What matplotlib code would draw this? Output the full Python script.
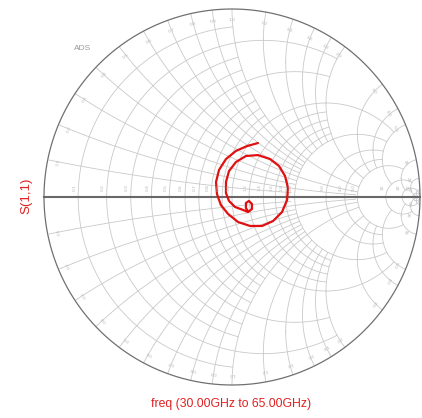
import numpy as np
import matplotlib
matplotlib.use("Agg")
import matplotlib.pyplot as plt

s11_re = [0.138, 0.080, 0.021, -0.032, -0.069, -0.085, -0.080, -0.059, -0.021, 0.032,
          0.096, 0.160, 0.218, 0.266, 0.293, 0.298, 0.282, 0.250, 0.202, 0.138,
          0.074, 0.021, -0.016, -0.032, -0.032, -0.016, 0.016, 0.059, 0.085, 0.106,
          0.106, 0.090, 0.074, 0.074, 0.085]
s11_im = [0.287, 0.271, 0.245, 0.202, 0.144, 0.080, 0.016, -0.043, -0.090, -0.133,
          -0.154, -0.154, -0.128, -0.080, -0.016, 0.048, 0.112, 0.165, 0.202, 0.223,
          0.218, 0.186, 0.138, 0.080, 0.021, -0.021, -0.053, -0.069, -0.080, -0.064,
          -0.037, -0.021, -0.032, -0.059, -0.075]

# Smith chart grid values
r_grid = [0.1, 0.2, 0.3, 0.4, 0.5, 0.6, 0.7, 0.8, 0.9, 1.0, 1.2, 1.4, 1.6, 1.8, 2.0,
          3.0, 4.0, 5.0, 10.0, 20.0, 50.0]
x_grid = r_grid
r_labels = ["0.1", "0.2", "0.3", "0.4", "0.5", "0.6", "0.7", "0.8", "0.9", "1.0",
            "1.2", "1.4", "1.6", "1.8", "2.0", "3.0", "4.0", "5.0", "10", "20", "50"]

title_text = "freq (30.00GHz to 65.00GHz)"
ylabel_text = "S(1,1)"


def r_limit(v):
    # reactance extent drawn for a resistance circle
    if v in (0.2, 0.5):
        return 2.0
    if v < 1.0:
        return 1.0
    if v == 1.0:
        return 5.0
    if v < 2.0:
        return 2.0
    if v <= 4.0:
        return 5.0
    if v == 5.0:
        return 10.0
    if v == 10.0:
        return 20.0
    return 1e9


def x_limit(v):
    # resistance extent drawn for a reactance arc
    if v in (0.2, 0.5):
        return 5.0
    if v < 1.0:
        return 2.0
    if v == 1.0:
        return 5.0
    if v < 2.0:
        return 2.0
    if v <= 4.0:
        return 5.0
    if v == 5.0:
        return 10.0
    if v == 10.0:
        return 20.0
    return 1e9


W, H = 422, 418
fig = plt.figure(figsize=(W / 100, H / 100), dpi=100)
cx, cy, R = 232, 197, 188
ax = fig.add_axes([(cx - R) / W, (H - cy - R) / H, 2 * R / W, 2 * R / H])
ax.set_xlim(-1, 1)
ax.set_ylim(-1, 1)
ax.axis("off")

grid_col = "#c9c9c9"
t = np.linspace(-np.pi, np.pi, 3000)

# resistance circles
for r in r_grid:
    c = r / (r + 1)
    rad = 1 / (r + 1)
    g = c + rad * np.exp(1j * t)
    z = (1 + g) / (1 - g + 1e-12)
    mask = np.abs(z.imag) <= r_limit(r)
    ax.plot(np.where(mask, g.real, np.nan), np.where(mask, g.imag, np.nan),
            color=grid_col, lw=0.6, clip_on=False)

# reactance arcs
for xv in x_grid:
    for s in (1, -1):
        x = s * xv
        g = (1 + 1j / x) + (1 / xv) * np.exp(1j * t)
        z = (1 + g) / (1 - g + 1e-12)
        mask = (np.abs(g) <= 1.0) & (z.real <= x_limit(xv))
        ax.plot(np.where(mask, g.real, np.nan), np.where(mask, g.imag, np.nan),
                color=grid_col, lw=0.6, clip_on=False)

# outer circle and real axis
ax.plot(np.cos(t), np.sin(t), color="#707070", lw=0.9, clip_on=False)
ax.plot([-1, 1], [0, 0], color="#686868", lw=1.5, clip_on=False)

# small labels on real axis
lab_col = "#b5b5b5"
for r, lab in zip(r_grid, r_labels):
    gx = (r - 1) / (r + 1)
    ax.text(gx - 0.02, 0.05, lab, fontsize=3.2, color=lab_col, rotation=90,
            ha="center", va="center")
# small labels on rim
for xv, lab in zip(x_grid, r_labels):
    for s in (1, -1):
        ang = s * (np.pi - 2 * np.arctan(xv))
        px, py = 0.94 * np.cos(ang), 0.94 * np.sin(ang)
        ax.text(px, py, lab, fontsize=3.2, color=lab_col,
                rotation=np.degrees(ang) - 90, ha="center", va="center")

# trace
ax.plot(s11_re, s11_im, color="#e01010", lw=1.6, clip_on=False,
        solid_joinstyle="round", solid_capstyle="round")

fam = ["Liberation Sans", "DejaVu Sans"]
fig.text(83 / W, 1 - 48 / H, "ADS", fontsize=6, color="#9a9a9a", ha="center",
         va="center", family=fam)
fig.text(26 / W, 1 - 196 / H, ylabel_text, fontsize=9.5, color="#e02020",
         rotation=90, ha="center", va="center", family=fam)
fig.text(231 / W, 1 - 404 / H, title_text, fontsize=8.8, color="#e02020",
         ha="center", va="center", family=fam)

fig.savefig("out.png", dpi=100)
